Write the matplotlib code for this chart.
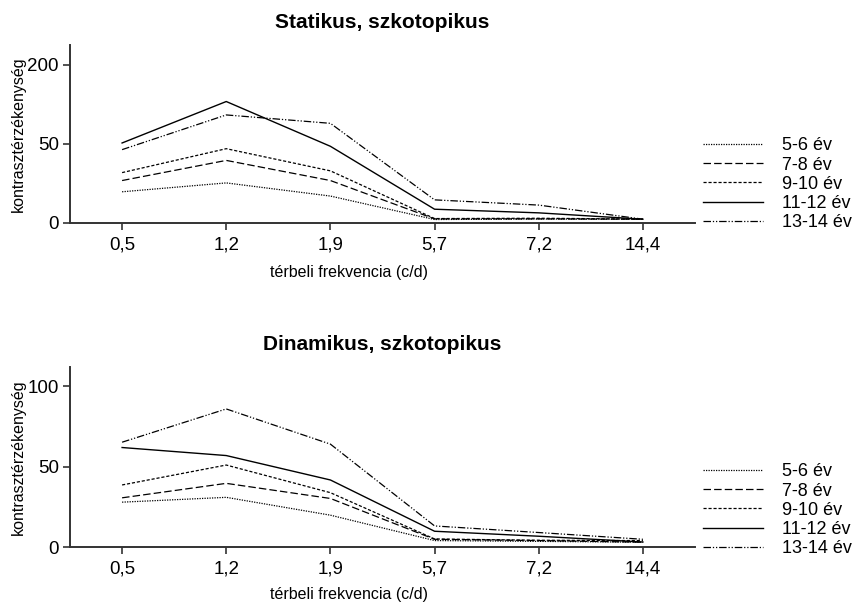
import numpy as np
import matplotlib
matplotlib.use("Agg")
import matplotlib.pyplot as plt
from matplotlib.lines import Line2D

plt.rcParams['font.family'] = ['Liberation Sans', 'DejaVu Sans']

freqs = ["0,5", "1,2", "1,9", "5,7", "7,2", "14,4"]
groups = ["5-6 év", "7-8 év", "9-10 év", "11-12 év", "13-14 év"]

# Statikus, szkotopikus
stat_5_6 = [19.7, 25.3, 17.0, 2.2, 2.5, 2.4]
stat_7_8 = [26.8, 39.5, 26.8, 2.6, 2.6, 2.4]
stat_9_10 = [31.8, 46.9, 32.9, 2.8, 3.0, 2.5]
stat_11_12 = [51.5, 130.0, 48.4, 8.7, 6.4, 2.4]
stat_13_14 = [46.3, 104.6, 88.7, 14.6, 11.3, 2.4]

# Dinamikus, szkotopikus
din_5_6 = [27.9, 30.9, 19.8, 4.0, 3.5, 3.0]
din_7_8 = [30.6, 39.6, 30.2, 4.8, 4.0, 3.0]
din_9_10 = [38.6, 51.0, 33.8, 5.0, 4.2, 4.0]
din_11_12 = [61.9, 56.9, 41.7, 9.8, 6.7, 3.1]
din_13_14 = [65.2, 85.9, 64.0, 13.1, 9.0, 4.8]

styles = [
    dict(linestyle=(0, (1, 1)), linewidth=0.9),
    dict(linestyle=(0, (6, 2.5)), linewidth=0.9),
    dict(linestyle=(0, (2.5, 1.5)), linewidth=0.9),
    dict(linestyle='-', linewidth=1.0),
    dict(linestyle=(0, (6, 1.5, 1, 1.5, 1, 1.5)), linewidth=0.9),
]

fig = plt.figure(figsize=(8.59, 6.02), dpi=100)
W, H = 859, 602

def add_ax(left, top, right, bottom):
    return fig.add_axes([left / W, 1 - bottom / H, (right - left) / W, (bottom - top) / H])

ax1 = add_ax(70, 45, 695, 223)
ax2 = add_ax(70, 367, 695, 547)

def fwd(y):
    y = np.asarray(y, dtype=float)
    return np.where(y <= 50, y, 50 + (y - 50) / 3.0)

def inv(t):
    t = np.asarray(t, dtype=float)
    return np.where(t <= 50, t, 50 + (t - 50) * 3.0)

ax1.set_yscale('function', functions=(fwd, inv))

x = np.arange(len(freqs))
stat = [stat_5_6, stat_7_8, stat_9_10, stat_11_12, stat_13_14]
din = [din_5_6, din_7_8, din_9_10, din_11_12, din_13_14]

for ax, data, title, ylim, yticks, top_px, bot_px, xlab_px, leg_bot in [
    (ax1, stat, "Statikus, szkotopikus", (0, 237), [0, 50, 200], 45, 223, 272, 231),
    (ax2, din, "Dinamikus, szkotopikus", (0, 112), [0, 50, 100], 367, 547, 594, 557),
]:
    for vals, st in zip(data, styles):
        ax.plot(x, vals, color='black', **st)
    ax.set_xlim(-0.5, 5.5)
    ax.set_ylim(*ylim)
    ax.set_yticks(yticks)
    ax.set_yticklabels([str(v) for v in yticks], fontsize=13.5)
    ax.set_xticks(x)
    ax.set_xticklabels(freqs, fontsize=13.5)
    ax.spines['top'].set_visible(False)
    ax.spines['right'].set_visible(False)
    for s in ['left', 'bottom']:
        ax.spines[s].set_linewidth(1.4)
        ax.spines[s].set_color('#333333')
    ax.tick_params(axis='both', length=5, width=1.2, color='#333333', pad=3)
    ax.tick_params(axis='x', pad=5)
    ax.set_title(title, fontsize=15, fontweight='bold', pad=12)
    fig.text(18 / W, 1 - ((top_px + bot_px) / 2) / H, "kontrasztérzékenység",
             fontsize=11.5, rotation=90, ha='center', va='center')
    fig.text(349 / W, 1 - xlab_px / H, "térbeli frekvencia (c/d)",
             fontsize=11.5, ha='center', va='center')
    handles = [Line2D([0], [0], color='black', **st) for st in styles]
    fig.legend(handles, groups, loc='lower left',
               bbox_to_anchor=(703 / W, 1 - leg_bot / H),
               frameon=False, fontsize=13, handlelength=3.3, handletextpad=1.1,
               labelspacing=0.12, borderpad=0, borderaxespad=0)

fig.savefig("out.png", dpi=100)
